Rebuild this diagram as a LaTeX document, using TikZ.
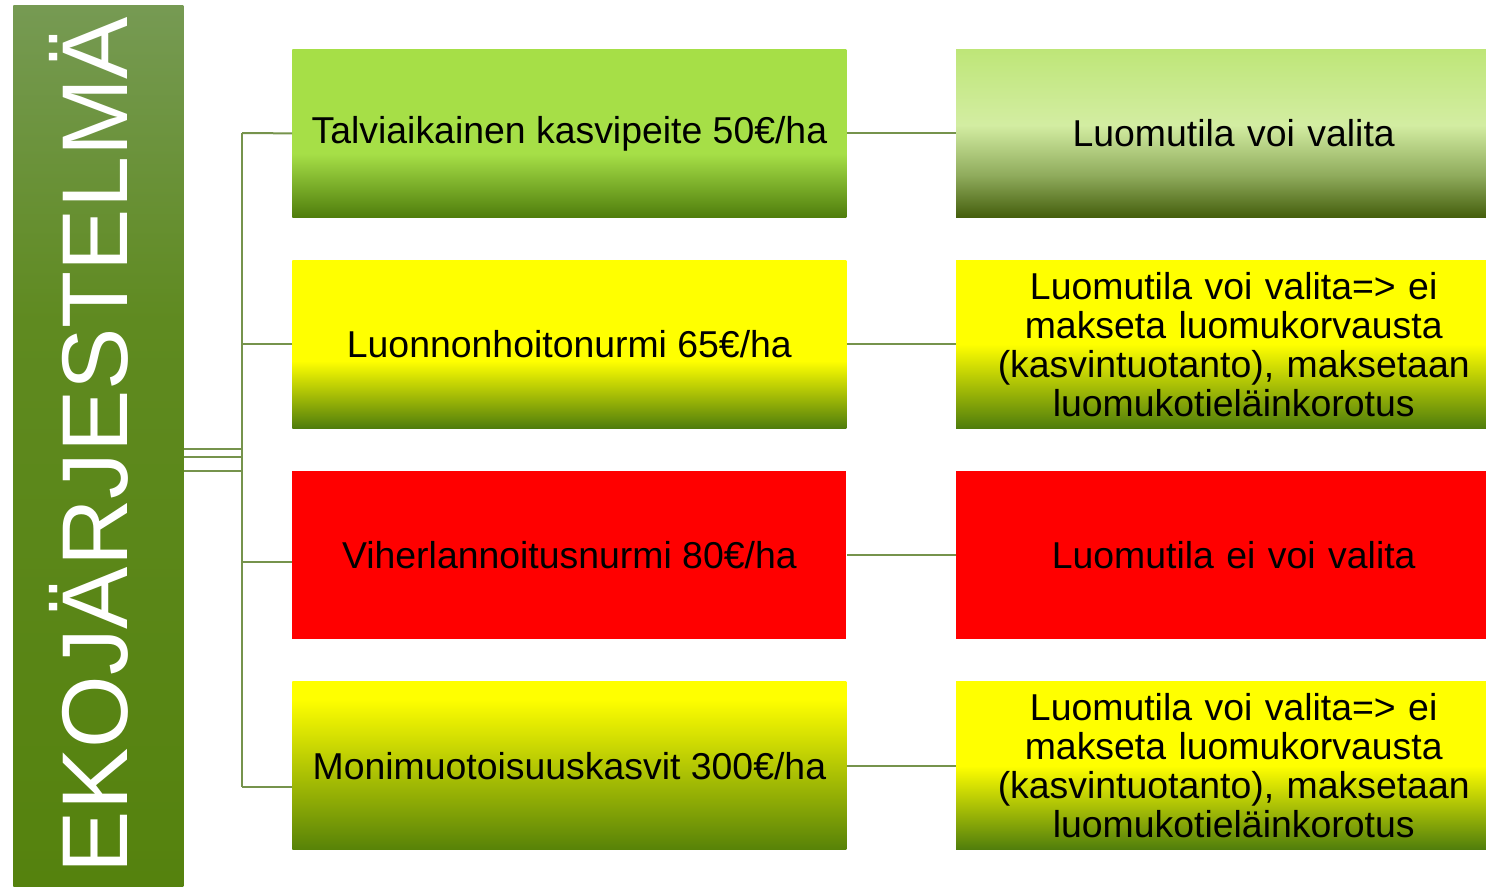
\documentclass[tikz,border=0pt]{standalone}
\usepackage{fontspec}
\setmainfont{Liberation Sans}
\usetikzlibrary{positioning}

\definecolor{linjavari}{HTML}{76934C}
\definecolor{punainen}{HTML}{FF0000}
\definecolor{keltainen}{HTML}{FFFF00}
\definecolor{ekoyla}{HTML}{769A53}
\definecolor{ekokeski}{HTML}{5F8A20}
\definecolor{ekoala}{HTML}{55820E}
\definecolor{vihrea}{HTML}{A6DF47}
\definecolor{tumma}{HTML}{4F7D0C}
\definecolor{tumma2}{HTML}{445E0C}
\definecolor{tumma3}{HTML}{578208}
\definecolor{vaalea1}{HTML}{BEE678}
\definecolor{vaalea2}{HTML}{D3EDA2}
\definecolor{harmaa}{HTML}{8FAB5C}

% liukuvärit: 25bp = laatikon alareuna, 75bp = yläreuna
\pgfdeclareverticalshading{ekovari}{100bp}{color(0bp)=(ekoala); color(25bp)=(ekoala); color(57bp)=(ekokeski); color(75bp)=(ekoyla); color(100bp)=(ekoyla)}
\pgfdeclareverticalshading{tukivihrea}{100bp}{color(0bp)=(tumma); color(25bp)=(tumma); color(44bp)=(vihrea); color(100bp)=(vihrea)}
\pgfdeclareverticalshading{luomuvihrea}{100bp}{color(0bp)=(tumma2); color(25bp)=(tumma2); color(37.5bp)=(harmaa); color(52.5bp)=(vaalea2); color(75bp)=(vaalea1); color(100bp)=(vaalea1)}
\pgfdeclareverticalshading{tukikeltainen}{100bp}{color(0bp)=(tumma); color(25bp)=(tumma); color(45bp)=(keltainen); color(100bp)=(keltainen)}
\pgfdeclareverticalshading{luomukeltainen}{100bp}{color(0bp)=(tumma); color(25bp)=(tumma); color(50bp)=(keltainen); color(100bp)=(keltainen)}
\pgfdeclareverticalshading{tukikeltainen2}{100bp}{color(0bp)=(tumma3); color(25bp)=(tumma3); color(70bp)=(keltainen); color(100bp)=(keltainen)}

\begin{document}
\begin{tikzpicture}[
        x=0.5pt, y=-0.5pt, % yksi yksikkö = yksi kuvapiste
        node distance=21pt and 54.5pt,
        linja/.style={draw=linjavari, line width=1pt},
        laatikko/.style={rectangle, inner sep=0pt, align=center, font=\fontsize{18.7}{19.5}\selectfont},
        tuki/.style={laatikko, minimum width=277pt, minimum height=84pt},
        luomu/.style={laatikko, minimum width=265.5pt, minimum height=84pt, text width=265.5pt,
            execute at begin node={\advance\leftskip by 12pt}},
    ]
    \useasboundingbox (0,0) rectangle (1486,888);

    % otsikkopalkki
    \node[rectangle, inner sep=0pt, minimum width=85pt, minimum height=440.5pt, anchor=north west, shading=ekovari] (eko) at (13,5) {};
    \node[rotate=90, anchor=base, text=white, font=\fontsize{46.7}{46.7}\selectfont] (otsikko) at (127,445) {EKOJÄRJESTELMÄ};

    % tuet
    \node[tuki, anchor=north west, shading=tukivihrea] (tuki1) at (292,49) {Talviaikainen kasvipeite 50€/ha};
    \node[tuki, below=of tuki1, shading=tukikeltainen] (tuki2) {Luonnonhoitonurmi 65€/ha};
    \node[tuki, below=of tuki2, fill=punainen] (tuki3) {Viherlannoitusnurmi 80€/ha};
    \node[tuki, below=of tuki3, shading=tukikeltainen2] (tuki4) {Monimuotoisuuskasvit 300€/ha};

    % luomutilat
    \node[luomu, right=of tuki1, shading=luomuvihrea] (luomu1) {Luomutila voi valita};
    \node[luomu, right=of tuki2, shading=luomukeltainen] (luomu2) {Luomutila voi valita=> ei\\makseta luomukorvausta\\(kasvintuotanto), maksetaan\\luomukotieläinkorotus};
    \node[luomu, right=of tuki3, fill=punainen] (luomu3) {Luomutila ei voi valita};
    \node[luomu, right=of tuki4, shading=luomukeltainen] (luomu4) {Luomutila voi valita=> ei\\makseta luomukorvausta\\(kasvintuotanto), maksetaan\\luomukotieläinkorotus};

    % yhdysviivat
    \coordinate (yla) at (242,133);
    \coordinate (ala) at (242,787);
    \draw[linja] (yla) -- (ala);
    \foreach \y in {449,457,471}
        \draw[linja] (eko.east |- 0,\y) -- (242,\y);
    \draw[linja] (yla) -- (tuki1.west);
    \draw[linja] (yla |- tuki2.west) -- (tuki2.west);
    \draw[linja] (242,562) -- (tuki3.west |- 0,562);
    \draw[linja] (ala) -- (tuki4.west |- ala);
    \foreach \i in {1,...,4}
        \draw[linja] (tuki\i.east) -- (luomu\i.west);
\end{tikzpicture}
\end{document}
